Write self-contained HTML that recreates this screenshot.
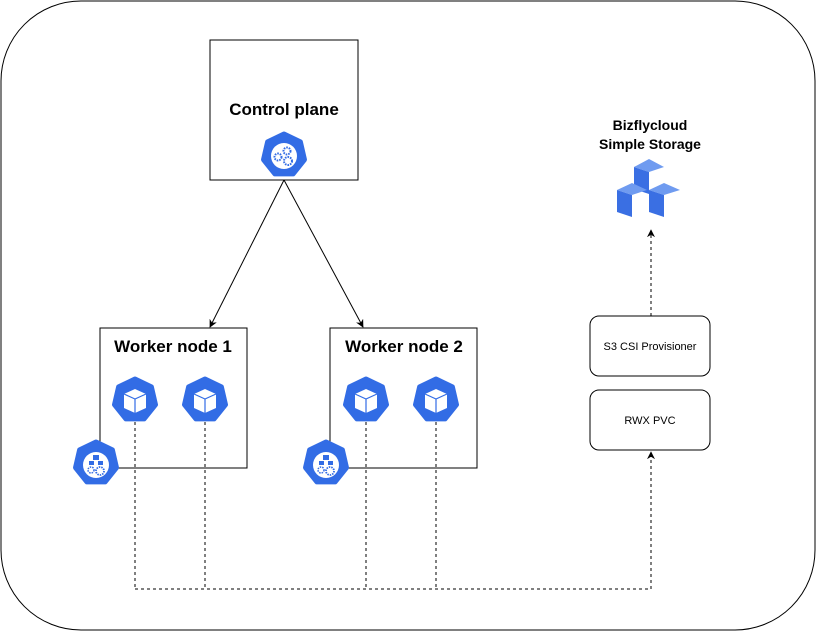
<!DOCTYPE html>
<html><head><meta charset="utf-8"><style>
html,body{margin:0;padding:0;background:#fff;}
svg{display:block;font-family:"Liberation Sans",Arial,sans-serif;}
</style></head><body>
<svg width="816" height="631" viewBox="0 0 816 631" xmlns="http://www.w3.org/2000/svg">
<defs>
<marker id="ah" viewBox="0 0 10 10" refX="9" refY="5" markerWidth="8" markerHeight="8" orient="auto-start-reverse" markerUnits="userSpaceOnUse">
<path d="M0,0 L10,5 L0,10 L3,5 z" fill="#000"/>
</marker>
<g id="hep">
<polygon points="0,-21 16.4,-13.1 20.5,4.7 9.1,18.9 -9.1,18.9 -20.5,4.7 -16.4,-13.1" fill="#326ce5" stroke="#326ce5" stroke-width="5" stroke-linejoin="round"/>
</g>
<g id="pod">
<use href="#hep"/>
<path d="M0,-11 L11,-6 L11,8 L0,13 L-11,8 L-11,-6 Z" fill="#fff"/>
<path d="M-11,-6 L0,-1 L11,-6 M0,-1 L0,13" stroke="#326ce5" stroke-width="1.2" fill="none"/>
</g>
<g id="nodeic">
<use href="#hep"/>
<circle cx="0" cy="2" r="13" fill="#fff"/>
<rect x="-3" y="-8" width="6" height="5" fill="#326ce5"/>
<rect x="-7" y="-2" width="5" height="4" fill="#326ce5"/>
<rect x="2" y="-2" width="5" height="4" fill="#326ce5"/>
<circle cx="-5" cy="7" r="3" fill="none" stroke="#326ce5" stroke-width="1.5" stroke-dasharray="1.5 1"/>
<circle cx="4" cy="8" r="4" fill="none" stroke="#326ce5" stroke-width="1.8" stroke-dasharray="1.5 1"/>
</g>
<g id="cpic">
<use href="#hep"/>
<circle cx="0" cy="1" r="13" fill="#fff"/>
<circle cx="-6" cy="2" r="3.5" fill="none" stroke="#326ce5" stroke-width="2" stroke-dasharray="1.6 1"/>
<circle cx="3" cy="-4" r="3.5" fill="none" stroke="#326ce5" stroke-width="2" stroke-dasharray="1.6 1"/>
<circle cx="4" cy="6" r="4" fill="none" stroke="#326ce5" stroke-width="2" stroke-dasharray="1.6 1"/>
</g>
</defs>

<rect x="1" y="1" width="814" height="629" rx="80" ry="80" fill="#fff" stroke="#000" stroke-width="1"/>

<!-- Control plane -->
<rect x="210" y="40" width="148" height="140" fill="#fff" stroke="#000"/>
<text x="284" y="115" font-size="17" font-weight="bold" text-anchor="middle">Control plane</text>
<use href="#cpic" transform="translate(284,155)"/>

<!-- arrows -->
<line x1="284" y1="180" x2="210" y2="327" stroke="#000" marker-end="url(#ah)"/>
<line x1="284" y1="180" x2="363" y2="327" stroke="#000" marker-end="url(#ah)"/>

<!-- dashed -->
<g stroke="#000" stroke-dasharray="3 3" fill="none">
<path d="M135,422 V589 M205,422 V589 M366,422 V589 M436,422 V589 M135,589 H651"/>
<line x1="651" y1="589" x2="651" y2="452" marker-end="url(#ah)"/>
<line x1="651" y1="316" x2="651" y2="230" marker-end="url(#ah)"/>
</g>

<!-- Worker 1 -->
<rect x="100" y="328" width="147" height="140" fill="none" stroke="#000"/>
<text x="173" y="352" font-size="17" font-weight="bold" text-anchor="middle">Worker node 1</text>
<use href="#pod" transform="translate(135,400)"/>
<use href="#pod" transform="translate(205,400)"/>
<use href="#nodeic" transform="translate(96,463)"/>

<!-- Worker 2 -->
<rect x="330" y="328" width="147" height="140" fill="none" stroke="#000"/>
<text x="404" y="352" font-size="17" font-weight="bold" text-anchor="middle">Worker node 2</text>
<use href="#pod" transform="translate(366,400)"/>
<use href="#pod" transform="translate(436,400)"/>
<use href="#nodeic" transform="translate(326,463)"/>

<!-- right boxes -->
<rect x="590" y="316" width="120" height="60" rx="9" fill="#fff" stroke="#000"/>
<text x="650" y="350" font-size="11" text-anchor="middle">S3 CSI Provisioner</text>
<rect x="590" y="390" width="120" height="60" rx="9" fill="#fff" stroke="#000"/>
<text x="650" y="424" font-size="11" text-anchor="middle">RWX PVC</text>

<!-- storage -->
<text x="650" y="130" font-size="14" font-weight="bold" text-anchor="middle">Bizflycloud</text>
<text x="650" y="149" font-size="14" font-weight="bold" text-anchor="middle">Simple Storage</text>
<g>
<polygon points="634,167 649,159 664,167 649,172" fill="#6f9bf0"/>
<polygon points="634,167 649,172 649,194 634,189" fill="#3a6fe3"/>
<polygon points="617,190 632,183 647,190 632,195" fill="#6f9bf0"/>
<polygon points="617,190 632,195 632,217 617,212" fill="#3a6fe3"/>
<polygon points="649,190 664,183 680,190 664,195" fill="#6f9bf0"/>
<polygon points="649,190 664,195 664,217 649,212" fill="#3a6fe3"/>
</g>
</svg>
</body></html>
